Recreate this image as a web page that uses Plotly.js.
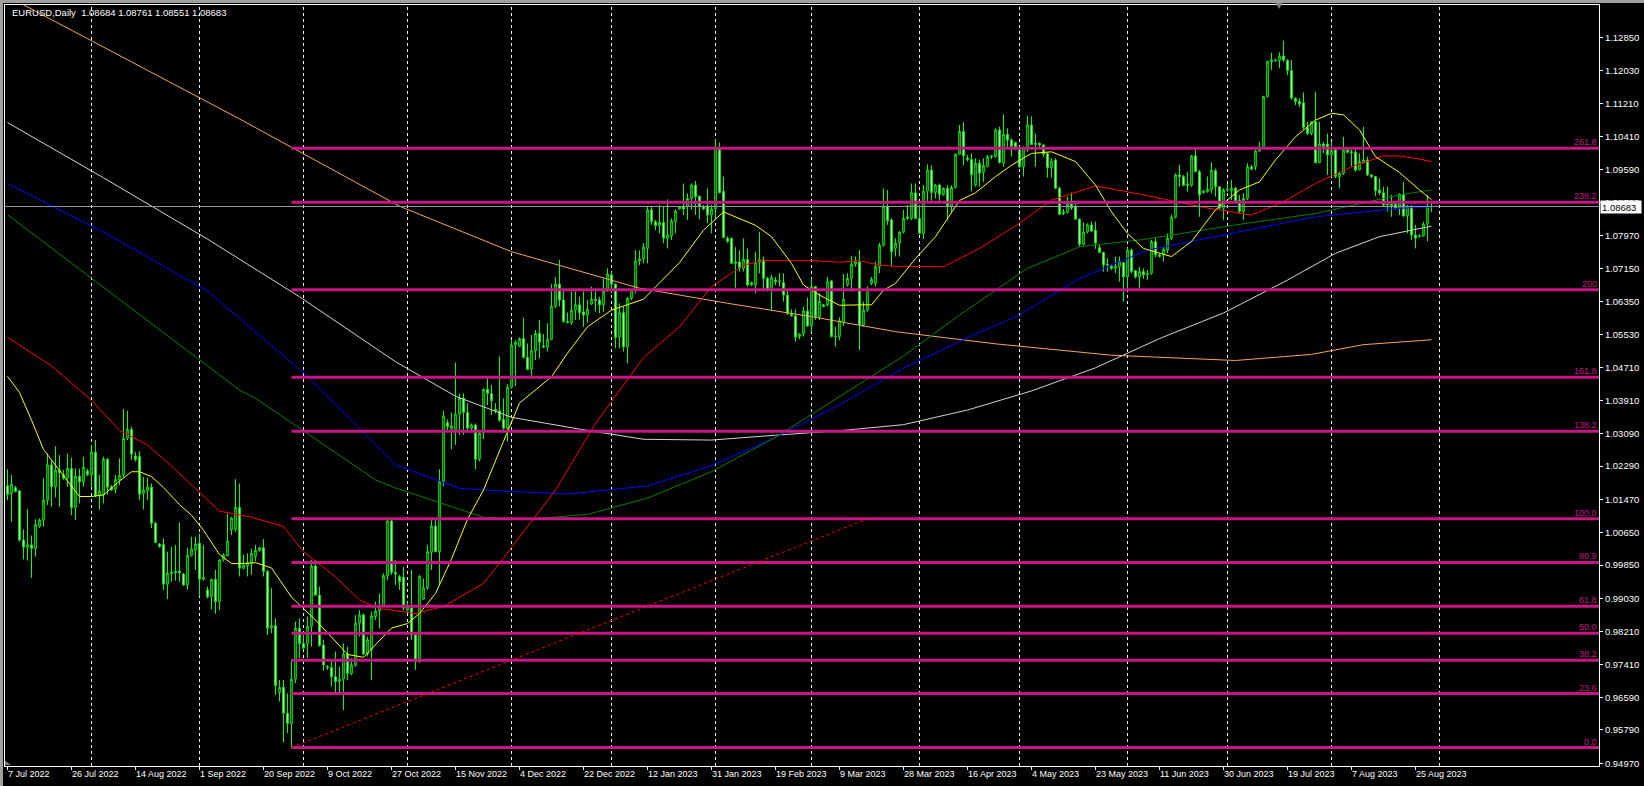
<!DOCTYPE html>
<html><head><meta charset="utf-8">
<script src="https://cdn.plot.ly/plotly-3.0.1.min.js"></script>
<style>
html,body{margin:0;padding:0;background:#000;}
#wrap{position:relative;width:1644px;height:786px;overflow:hidden;}
#chart{width:1644px;height:786px;}
.edge{position:absolute;background:#a0a0a0;pointer-events:none;}
</style></head><body>
<div id="wrap"><div id="chart"></div>
<div class="edge" style="left:0;top:0;width:1644px;height:3px"></div>
<div class="edge" style="left:0;top:0;width:3px;height:786px"></div>
</div>
<script>
const titleText = "EURUSD,Daily\u00A0 1.08684 1.08761 1.08551 1.08683";

const open = [
1.0181,1.0161,1.0176,1.0168,1.0047,1.0029,1.0035,1.0026,1.0080,1.0096,
1.0145,1.0232,1.0178,1.0219,1.0208,1.0199,1.0223,1.0127,1.0204,1.0190,
1.0217,1.0207,1.0263,1.0155,1.0158,1.0246,1.0177,1.0172,1.0195,1.0207,
1.0297,1.0319,1.0254,1.0253,1.0162,1.0168,1.0177,1.0088,1.0037,1.0036,
0.9938,0.9964,0.9966,0.9970,0.9963,0.9936,1.0009,1.0022,1.0039,0.9950,
0.9924,0.9907,0.9950,0.9895,0.9998,1.0008,1.0072,1.0072,1.0127,0.9977,
0.9983,0.9989,1.0006,1.0021,1.0028,0.9969,0.9831,0.9836,0.9671,0.9684,
0.9620,0.9595,0.9704,0.9829,0.9792,0.9792,0.9834,0.9983,0.9911,0.9788,
0.9735,0.9733,0.9710,0.9698,0.9704,0.9766,0.9718,0.9739,0.9842,0.9862,
0.9766,0.9776,0.9858,0.9872,0.9884,0.9959,1.0094,0.9967,0.9957,0.9955,
0.9874,0.9880,0.9813,0.9747,0.9901,0.9929,1.0016,1.0081,1.0018,1.0191,
1.0336,1.0320,1.0318,1.0357,1.0396,1.0361,1.0322,1.0330,1.0246,1.0310,
1.0418,1.0407,1.0369,1.0365,1.0344,1.0322,1.0423,1.0527,1.0523,1.0543,
1.0497,1.0467,1.0513,1.0556,1.0525,1.0522,1.0541,1.0622,1.0677,1.0638,
1.0585,1.0582,1.0613,1.0626,1.0609,1.0601,1.0628,1.0640,1.0638,1.0626,
1.0660,1.0700,1.0677,1.0546,1.0607,1.0522,1.0642,1.0663,1.0734,1.0739,
1.0765,1.0860,1.0831,1.0821,1.0829,1.0790,1.0796,1.0831,1.0862,1.0868,
1.0868,1.0888,1.0921,1.0894,1.0868,1.0870,1.0847,1.0862,1.1012,1.0906,
1.0790,1.0790,1.0728,1.0732,1.0716,1.0738,1.0675,1.0675,1.0730,1.0737,
1.0691,1.0663,1.0687,1.0683,1.0681,1.0650,1.0605,1.0599,1.0548,1.0554,
1.0611,1.0574,1.0671,1.0597,1.0626,1.0626,1.0685,1.0548,1.0548,1.0583,
1.0675,1.0691,1.0726,1.0732,1.0576,1.0613,1.0679,1.0679,1.0720,1.0773,
1.0869,1.0835,1.0765,1.0778,1.0805,1.0839,1.0839,1.0902,1.0839,1.0802,
1.0906,1.0958,1.0903,1.0921,1.0897,1.0913,1.0869,1.0915,1.0997,1.1053,
1.0988,1.0984,1.0921,1.0975,1.0952,1.0966,1.0991,1.0991,1.1057,1.0975,
1.1046,1.1032,1.1026,1.1012,1.0966,1.1010,1.1069,1.1021,1.1024,1.1020,
1.0999,1.0964,1.0983,1.0913,1.0851,1.0854,1.0874,1.0868,1.0837,1.0775,
1.0805,1.0823,1.0810,1.0767,1.0755,1.0724,1.0722,1.0716,1.0720,1.0730,
1.0695,1.0761,1.0710,1.0695,1.0708,1.0700,1.0704,1.0782,1.0749,1.0749,
1.0761,1.0790,1.0842,1.0946,1.0942,1.0920,1.0920,1.0993,1.0954,1.0902,
1.0905,1.0909,1.0957,1.0917,1.0864,1.0909,1.0907,1.0913,1.0884,1.0856,
1.0888,1.0966,1.0966,1.1005,1.1014,1.1139,1.1225,1.1229,1.1228,1.1239,
1.1228,1.1203,1.1135,1.1127,1.1124,1.1063,1.1048,1.1077,1.0976,1.1022,
1.1022,1.0995,1.1008,1.0942,1.0950,1.1008,1.1003,1.1002,1.0958,1.0976,
1.0983,1.0946,1.0942,1.0909,1.0902,1.0872,1.0874,1.0874,1.0864,1.0898,
1.0845,1.0868,1.0798,1.0794,1.0796,1.0825,1.08684];

const high = [
1.0221,1.0207,1.0180,1.0170,1.0073,1.0123,1.0058,1.0098,1.0100,1.0199,
1.0260,1.0244,1.0278,1.0256,1.0219,1.0260,1.0250,1.0223,1.0223,1.0252,
1.0223,1.0281,1.0293,1.0207,1.0252,1.0248,1.0182,1.0207,1.0248,1.0370,
1.0365,1.0326,1.0264,1.0266,1.0202,1.0201,1.0186,1.0092,1.0039,1.0051,
1.0018,1.0030,1.0035,1.0090,0.9966,1.0028,1.0055,1.0055,1.0063,1.0035,
0.9932,0.9950,0.9973,0.9998,1.0014,1.0112,1.0104,1.0197,1.0186,1.0010,
1.0014,1.0026,1.0035,1.0030,1.0049,0.9973,0.9928,0.9854,0.9702,0.9702,
0.9669,0.9751,0.9846,0.9854,0.9813,0.9858,0.9998,0.9998,0.9932,0.9801,
0.9739,0.9751,0.9772,0.9735,0.9792,0.9784,0.9756,0.9862,0.9874,0.9866,
0.9809,0.9870,0.9895,0.9915,0.9965,1.0096,1.0096,0.9998,0.9961,0.9981,
0.9895,0.9973,0.9813,0.9961,0.9952,1.0035,1.0096,1.0096,1.0221,1.0365,
1.0344,1.0361,1.0484,1.0407,1.0408,1.0384,1.0334,1.0334,1.0314,1.0420,
1.0448,1.0429,1.0384,1.0499,1.0396,1.0431,1.0539,1.0539,1.0546,1.0595,
1.0531,1.0552,1.0564,1.0589,1.0554,1.0581,1.0677,1.0695,1.0737,1.0663,
1.0607,1.0659,1.0659,1.0646,1.0659,1.0638,1.0671,1.0667,1.0646,1.0691,
1.0716,1.0708,1.0679,1.0630,1.0622,1.0645,1.0663,1.0761,1.0760,1.0778,
1.0868,1.0868,1.0835,1.0872,1.0868,1.0886,1.0839,1.0861,1.0869,1.0925,
1.0901,1.0925,1.0931,1.0894,1.0872,1.0913,1.0872,1.1034,1.1026,1.0942,
1.0794,1.0792,1.0768,1.0761,1.0790,1.0765,1.0683,1.0757,1.0806,1.0745,
1.0695,1.0700,1.0695,1.0704,1.0704,1.0663,1.0615,1.0615,1.0556,1.0622,
1.0644,1.0691,1.0672,1.0655,1.0628,1.0695,1.0687,1.0572,1.0595,1.0702,
1.0704,1.0747,1.0745,1.0761,1.0634,1.0672,1.0695,1.0732,1.0779,1.0913,
1.0909,1.0839,1.0790,1.0808,1.0860,1.0872,1.0925,1.0925,1.0872,1.0921,
1.0972,1.0970,1.0924,1.0925,1.0915,1.0921,1.0921,1.0999,1.1069,1.1076,
1.0995,1.0999,1.0987,1.0984,1.0987,1.0995,1.0995,1.1061,1.1065,1.1095,
1.1061,1.1036,1.1028,1.1016,1.1016,1.1092,1.1090,1.1048,1.1026,1.1020,
1.1002,1.0987,1.0987,1.0917,1.0862,1.0893,1.0903,1.0876,1.0839,1.0829,
1.0827,1.0831,1.0831,1.0774,1.0757,1.0741,1.0726,1.0745,1.0745,1.0732,
1.0767,1.0764,1.0712,1.0720,1.0716,1.0712,1.0786,1.0790,1.0753,1.0769,
1.0802,1.0848,1.0950,1.0971,1.0946,1.0954,1.0995,1.1012,1.0958,1.0909,
1.0942,1.0977,1.0962,1.0917,1.0913,1.0925,1.0934,1.0917,1.0897,1.0901,
1.0975,1.0971,1.1008,1.1028,1.1141,1.1228,1.1247,1.1233,1.1248,1.1277,
1.1231,1.1229,1.1137,1.1135,1.1149,1.1077,1.1078,1.1151,1.1077,1.1028,
1.1048,1.1028,1.1012,1.0954,1.1040,1.1012,1.1012,1.1012,1.0999,1.1065,
1.0991,1.0948,1.0943,1.0938,1.0917,1.0917,1.0897,1.0880,1.0901,1.0929,
1.0872,1.0872,1.0823,1.0800,1.0831,1.0897,1.08761];

const low = [
1.0145,1.0092,1.0165,1.0043,0.9999,0.9996,0.9953,1.0006,1.0077,1.0080,
1.0133,1.0129,1.0152,1.0129,1.0195,1.0178,1.0108,1.0096,1.0137,1.0178,
1.0204,1.0178,1.0152,1.0122,1.0137,1.0158,1.0168,1.0162,1.0182,1.0201,
1.0293,1.0244,1.0240,1.0145,1.0122,1.0145,1.0076,1.0039,1.0029,0.9924,
0.9901,0.9944,0.9947,0.9944,0.9934,0.9924,1.0006,0.9973,0.9907,0.9947,
0.9903,0.9876,0.9865,0.9874,0.9994,1.0008,1.0059,1.0067,0.9957,0.9975,
0.9957,0.9961,0.9994,1.0018,0.9957,0.9813,0.9817,0.9665,0.9649,0.9548,
0.9571,0.9534,0.9694,0.9756,0.9776,0.9756,0.9784,0.9911,0.9784,0.9725,
0.9727,0.9686,0.9669,0.9669,0.9628,0.9702,0.9714,0.9735,0.9809,0.9764,
0.9760,0.9702,0.9850,0.9829,0.9883,0.9948,0.9961,0.9936,0.9924,0.9874,
0.9870,0.9801,0.9727,0.9745,0.9899,0.9924,0.9973,1.0018,0.9936,1.0180,
1.0314,1.0270,1.0281,1.0306,1.0306,1.0318,1.0314,1.0221,1.0240,1.0295,
1.0379,1.0355,1.0359,1.0338,1.0318,1.0289,1.0420,1.0426,1.0523,1.0494,
1.0466,1.0443,1.0490,1.0494,1.0519,1.0511,1.0539,1.0618,1.0622,1.0582,
1.0581,1.0577,1.0589,1.0589,1.0572,1.0582,1.0626,1.0609,1.0605,1.0609,
1.0659,1.0654,1.0519,1.0519,1.0511,1.0482,1.0638,1.0654,1.0724,1.0728,
1.0728,1.0823,1.0810,1.0802,1.0778,1.0765,1.0786,1.0802,1.0860,1.0847,
1.0835,1.0860,1.0847,1.0837,1.0860,1.0827,1.0802,1.0835,1.0902,1.0790,
1.0779,1.0727,1.0668,1.0708,1.0708,1.0671,1.0672,1.0654,1.0704,1.0659,
1.0659,1.0612,1.0675,1.0671,1.0634,1.0601,1.0597,1.0535,1.0541,1.0548,
1.0572,1.0558,1.0589,1.0589,1.0620,1.0622,1.0546,1.0523,1.0539,1.0574,
1.0671,1.0659,1.0720,1.0515,1.0572,1.0609,1.0675,1.0671,1.0704,1.0769,
1.0823,1.0720,1.0745,1.0745,1.0802,1.0835,1.0835,1.0837,1.0800,1.0788,
1.0880,1.0880,1.0888,1.0880,1.0895,1.0835,1.0855,1.0913,1.0995,1.0970,
1.0979,1.0906,1.0917,1.0917,1.0929,1.0966,1.0985,1.0988,1.0975,1.0966,
1.1012,1.0991,1.1007,1.0964,1.0942,1.1003,1.1020,1.0966,1.1013,1.0991,
1.0939,1.0939,1.0911,1.0847,1.0847,1.0851,1.0860,1.0835,1.0769,1.0772,
1.0802,1.0806,1.0764,1.0753,1.0708,1.0708,1.0712,1.0704,1.0683,1.0634,
1.0663,1.0704,1.0691,1.0667,1.0690,1.0688,1.0700,1.0743,1.0743,1.0733,
1.0753,1.0786,1.0839,1.0917,1.0919,1.0905,1.0917,1.0954,1.0843,1.0901,
1.0902,1.0901,1.0893,1.0860,1.0835,1.0905,1.0884,1.0876,1.0852,1.0835,
1.0884,1.0958,1.0958,1.1003,1.1012,1.1137,1.1205,1.1225,1.1209,1.1225,
1.1192,1.1131,1.1118,1.1113,1.1058,1.1044,1.1044,1.0975,1.0975,1.0999,
1.0946,1.0942,1.0938,1.0913,1.0946,1.0999,1.0966,1.0954,1.0958,1.0975,
1.0943,1.0938,1.0894,1.0897,1.0868,1.0856,1.0843,1.0860,1.0847,1.0843,
1.0802,1.0786,1.0765,1.0792,1.0794,1.0782,1.08551];

const close = [
1.0159,1.0184,1.0166,1.0047,1.0029,1.0035,1.0026,1.0085,1.0096,1.0145,
1.0232,1.0178,1.0219,1.0213,1.0199,1.0223,1.0127,1.0204,1.0190,1.0226,
1.0208,1.0263,1.0155,1.0168,1.0246,1.0177,1.0170,1.0196,1.0206,1.0297,
1.0319,1.0258,1.0245,1.0159,1.0170,1.0177,1.0088,1.0041,1.0030,0.9938,
0.9965,0.9968,0.9970,0.9966,0.9936,1.0009,1.0025,1.0037,0.9950,0.9955,
0.9907,0.9950,0.9895,0.9998,1.0010,1.0044,1.0101,1.0127,0.9977,0.9985,
0.9991,1.0014,1.0021,1.0028,0.9969,0.9829,0.9836,0.9688,0.9684,0.9620,
0.9595,0.9704,0.9829,0.9792,0.9780,0.9834,0.9983,0.9911,0.9787,0.9739,
0.9733,0.9710,0.9698,0.9704,0.9766,0.9718,0.9739,0.9842,0.9862,0.9766,
0.9801,0.9860,0.9872,0.9884,0.9959,1.0094,0.9967,0.9963,0.9944,0.9879,
0.9884,0.9813,0.9747,0.9957,0.9929,1.0018,1.0081,1.0018,1.0191,1.0352,
1.0326,1.0328,1.0357,1.0396,1.0361,1.0322,1.0330,1.0246,1.0310,1.0418,
1.0408,1.0390,1.0365,1.0342,1.0322,1.0423,1.0527,1.0534,1.0543,1.0497,
1.0467,1.0513,1.0556,1.0534,1.0522,1.0541,1.0623,1.0677,1.0638,1.0585,
1.0582,1.0613,1.0626,1.0607,1.0601,1.0615,1.0640,1.0637,1.0626,1.0660,
1.0702,1.0677,1.0546,1.0607,1.0522,1.0642,1.0663,1.0734,1.0739,1.0768,
1.0860,1.0831,1.0821,1.0829,1.0790,1.0798,1.0833,1.0857,1.0868,1.0862,
1.0888,1.0921,1.0892,1.0868,1.0862,1.0847,1.0862,1.1012,1.0902,1.0792,
1.0782,1.0728,1.0732,1.0716,1.0738,1.0675,1.0681,1.0730,1.0737,1.0691,
1.0663,1.0693,1.0683,1.0685,1.0650,1.0605,1.0599,1.0546,1.0554,1.0611,
1.0574,1.0671,1.0597,1.0635,1.0622,1.0683,1.0548,1.0549,1.0587,1.0640,
1.0691,1.0726,1.0732,1.0576,1.0613,1.0665,1.0689,1.0720,1.0773,1.0869,
1.0833,1.0757,1.0778,1.0805,1.0839,1.0843,1.0902,1.0839,1.0802,1.0906,
1.0958,1.0903,1.0921,1.0898,1.0913,1.0869,1.0915,1.0997,1.1053,1.0993,
1.0984,1.0946,1.0975,1.0950,1.0969,1.0991,1.0993,1.1057,1.0976,1.1046,
1.1032,1.1016,1.1012,1.0966,1.1012,1.1069,1.1021,1.1024,1.1020,1.0997,
1.0964,1.0980,1.0913,1.0849,1.0855,1.0874,1.0864,1.0837,1.0775,1.0805,
1.0823,1.0808,1.0778,1.0755,1.0724,1.0726,1.0716,1.0722,1.0734,1.0695,
1.0761,1.0708,1.0695,1.0708,1.0700,1.0703,1.0782,1.0749,1.0745,1.0763,
1.0790,1.0842,1.0946,1.0942,1.0920,1.0924,1.0993,1.0954,1.0897,1.0906,
1.0911,1.0957,1.0917,1.0864,1.0909,1.0911,1.0913,1.0880,1.0856,1.0888,
1.0966,1.0960,1.1005,1.1014,1.1139,1.1225,1.1229,1.1228,1.1239,1.1229,
1.1203,1.1135,1.1127,1.1121,1.1063,1.1048,1.1077,1.0976,1.1022,1.1016,
1.0995,1.1006,1.0942,1.0950,1.1008,1.1002,1.1001,1.0958,1.0979,1.0983,
1.0946,1.0942,1.0907,1.0902,1.0872,1.0874,1.0871,1.0864,1.0899,1.0845,
1.0868,1.0798,1.0790,1.0796,1.0825,1.0868,1.08683];

// Moving averages (bar index, price)
const maYellowX = [0,3,6,9,14,18,21,24,28,31,33,36,39,43,46,49,53,56,59,62,66,71,77,85,89,92,96,100,103,107,111,115,119,124,128,136,140,145,151,159,168,174,179,187,191,196,199,203,208,213,216,219,222,227,232,238,242,247,251,256,261,267,272,276,280,284,291,296,302,308,313,317,322,327,331,334,338,342,348,353,356];
const maYellowY = [1.0450,1.0410,1.0342,1.0270,1.0205,1.0154,1.0154,1.0158,1.0192,1.0215,1.0215,1.0203,1.0176,1.0134,1.0108,1.0071,1.0011,0.9989,0.9989,0.9991,0.9978,0.9906,0.9850,0.9765,0.9758,0.9788,0.9830,0.9841,0.9866,0.9915,1.0000,1.0098,1.0170,1.0290,1.0384,1.0449,1.0507,1.0572,1.0613,1.0640,1.0730,1.0810,1.0855,1.0822,1.0794,1.0728,1.0675,1.0650,1.0625,1.0626,1.0626,1.0662,1.0679,1.0740,1.0794,1.0883,1.0902,1.0942,1.0970,1.0999,1.1003,1.0979,1.0921,1.0855,1.0802,1.0765,1.0745,1.0782,1.0860,1.0909,1.0929,1.0983,1.1040,1.1081,1.1098,1.1094,1.1057,1.0991,1.0952,1.0909,1.0885];
const maRedX = [0,11,18,21,28,35,41,48,53,61,69,74,82,88,93,102,109,119,123,137,147,159,168,176,184,189,201,208,213,218,222,234,243,253,261,272,284,298,311,319,327,336,344,348,352,356];
const maRedY = [1.0546,1.0476,1.0416,1.0391,1.0317,1.0281,1.0229,1.0164,1.0118,1.0103,1.0080,1.0018,0.9956,0.9899,0.9878,0.9866,0.9883,0.9940,0.9990,1.0170,1.0334,1.0496,1.0572,1.0671,1.0724,1.0735,1.0735,1.0731,1.0735,1.0724,1.0721,1.0720,1.0765,1.0827,1.0884,1.0919,1.0897,1.0868,1.0847,1.0880,1.0925,1.0966,1.0993,1.0993,1.0987,1.0979];
const maGreenX = [0,30,58,62,92,97,116,119,130,145,160,176,192,208,224,238,255,268,284,307,327,348,356];
const maGreenY = [1.0848,1.0625,1.0416,1.0396,1.0195,1.0175,1.0113,1.0103,1.0098,1.0110,1.0150,1.0215,1.0300,1.0400,1.0500,1.0601,1.0716,1.0769,1.0787,1.0823,1.0851,1.0897,1.0909];
const maBlueX = [0,25,50,75,97,113,123,140,160,176,192,208,224,240,253,268,285,306,327,348,356];
const maBlueY = [1.0925,1.0800,1.0660,1.0450,1.0232,1.0174,1.0168,1.0160,1.0180,1.0230,1.0300,1.0380,1.0470,1.0545,1.0601,1.0691,1.0761,1.0802,1.0843,1.0864,1.0867];
const maWhiteX = [0,24,50,73,97,112,126,143,159,176,192,208,224,240,256,272,288,304,320,332,343,356];
const maWhiteY = [1.1075,1.0939,1.0788,1.0646,1.0486,1.0401,1.0349,1.0320,1.0295,1.0293,1.0305,1.0316,1.0331,1.0367,1.0414,1.0471,1.0543,1.0606,1.0687,1.0753,1.0794,1.0820];
const maOrangeX = [0,4,58,73,98,126,158,180,201,222,247,276,307,326,339,356];
const maOrangeY = [1.1387,1.1365,1.1084,1.1003,1.0869,1.0757,1.0667,1.0630,1.0597,1.0560,1.0530,1.0502,1.0489,1.0504,1.0528,1.0540];

// Fibonacci tool
const fibLow = 0.95355, fibHigh = 1.00993;
const fibStartBar = 71, fibEndBar = 215;
const fibRatios = [0, 0.236, 0.382, 0.5, 0.618, 0.809, 1, 1.382, 1.618, 2, 2.382, 2.618];
const fibLabels = ["0.0","23.6","38.2","50.0","61.8","80.9","100.0","138.2","161.8","200","238.2","261.8"];

const currentPrice = 1.08683;

// Axes
const dateLabels = ["7 Jul 2022","26 Jul 2022","14 Aug 2022","1 Sep 2022","20 Sep 2022","9 Oct 2022","27 Oct 2022","15 Nov 2022","4 Dec 2022","22 Dec 2022","12 Jan 2023","31 Jan 2023","19 Feb 2023","9 Mar 2023","28 Mar 2023","16 Apr 2023","4 May 2023","23 May 2023","11 Jun 2023","30 Jun 2023","19 Jul 2023","7 Aug 2023","25 Aug 2023"];
const dateLabelStep = 16;
const monthStartBars = [21,48,74,100,126,151,177,201,228,253,280,305,331,358];
const priceTicks = ["1.12850","1.12030","1.11210","1.10410","1.09590","1.08780","1.07970","1.07150","1.06350","1.05530","1.04710","1.03910","1.03090","1.02290","1.01470","1.00650","0.99850","0.99030","0.98210","0.97410","0.96590","0.95790","0.94970"];
const xRange = [-0.625, 397.875];
const yRange = [0.94902, 1.13646];

const FONT = "Liberation Sans, Arial, sans-serif";
const FIBCOL = "#C71585";

const bars = open.map((_, i) => i);
const traces = [{
  type: "candlestick", x: bars, open: open, high: high, low: low, close: close,
  increasing: {line: {color: "#00FF00", width: 1}, fillcolor: "#000000"},
  decreasing: {line: {color: "#00FF00", width: 1}, fillcolor: "#FFFFFF"},
  whiskerwidth: 0, hoverinfo: "skip", showlegend: false
}];
function ma(x, y, color) {
  traces.push({type: "scatter", mode: "lines", x: x, y: y, line: {color: color, width: 1}, hoverinfo: "skip", showlegend: false});
}
ma(maOrangeX, maOrangeY, "#F4A460");
ma(maWhiteX, maWhiteY, "#D3D3D3");
ma(maBlueX, maBlueY, "#0000FF");
ma(maGreenX, maGreenY, "#008000");
ma(maRedX, maRedY, "#FF0000");
ma(maYellowX, maYellowY, "#FFFF00");

const shapes = [];
monthStartBars.forEach(b => shapes.push({type: "line", xref: "x", yref: "paper", x0: b, x1: b, y0: 0, y1: 1, layer: "below", line: {color: "#FFFFFF", width: 1, dash: "3px,3px"}}));
shapes.push({type: "line", xref: "paper", yref: "y", x0: 0, x1: 1, y0: currentPrice, y1: currentPrice, layer: "above", line: {color: "#8C96A0", width: 1}});
const annotations = [];
fibRatios.forEach((r, k) => {
  const lvl = fibLow + r * (fibHigh - fibLow);
  shapes.push({type: "line", xref: "x", yref: "y", x0: fibStartBar, x1: xRange[1] + 5, y0: lvl, y1: lvl, layer: "above", line: {color: FIBCOL, width: 3}});
  annotations.push({xref: "paper", yref: "y", x: 1, y: lvl, xanchor: "right", yanchor: "bottom", xshift: -1, yshift: 0, text: fibLabels[k], showarrow: false, font: {family: FONT, size: 9, color: FIBCOL}, borderpad: 0});
});
shapes.push({type: "line", xref: "x", yref: "y", x0: fibStartBar, x1: fibEndBar, y0: fibLow, y1: fibHigh, layer: "above", line: {color: "#FF0000", width: 1, dash: "dot"}});
// small gray markers of the terminal
shapes.push({type: "path", xref: "paper", yref: "paper", path: "M 0.7968 1.004 L 0.8018 1.004 L 0.7993 0.9947 Z", fillcolor: "#808080", line: {width: 0}});
shapes.push({type: "path", xref: "paper", yref: "paper", path: "M 0 0.007 L 0 0.0013 L 0.0038 0.0013 Z", fillcolor: "#808080", line: {width: 0}});

dateLabels.forEach((t, k) => annotations.push({xref: "x", yref: "paper", x: k * dateLabelStep, y: 0, xanchor: "left", yanchor: "top", xshift: -1, yshift: -2, text: t, showarrow: false, font: {family: FONT, size: 9, color: "#FFFFFF"}, borderpad: 0}));
annotations.push({xref: "paper", yref: "y", x: 1, y: currentPrice, xanchor: "left", yanchor: "middle", xshift: 1, text: "1.08683", showarrow: false, bgcolor: "#FFFFFF", font: {family: FONT, size: 9.5, color: "#000000"}, borderpad: 1, width: 38, height: 10, align: "left"});

const layout = {
  width: 1644, height: 786,
  margin: {l: 5, r: 45, t: 5, b: 20, pad: 0},
  paper_bgcolor: "#000000", plot_bgcolor: "#000000",
  showlegend: false, dragmode: false, boxgap: 0.45,
  title: {text: titleText, x: 12 / 1644, xanchor: "left", xref: "container", y: 1 - 13 / 786, yanchor: "middle", yref: "container", font: {family: FONT, size: 9.5, color: "#FFFFFF"}},
  xaxis: {range: xRange, type: "linear", showgrid: false, zeroline: false, showline: true, mirror: true, linecolor: "#FFFFFF", linewidth: 1,
          ticks: "outside", ticklen: 3, tickcolor: "#FFFFFF", tickvals: dateLabels.map((_, k) => k * dateLabelStep), showticklabels: false,
          rangeslider: {visible: false}, fixedrange: true},
  yaxis: {range: yRange, side: "right", showgrid: false, zeroline: false, showline: true, mirror: true, linecolor: "#FFFFFF", linewidth: 1,
          ticks: "outside", ticklen: 3, tickcolor: "#FFFFFF", tickvals: priceTicks.map(Number), ticktext: priceTicks,
          tickfont: {family: FONT, size: 9.5, color: "#FFFFFF"}, fixedrange: true},
  shapes: shapes, annotations: annotations
};
Plotly.newPlot("chart", traces, layout, {staticPlot: true, displayModeBar: false});
</script>
</body></html>
